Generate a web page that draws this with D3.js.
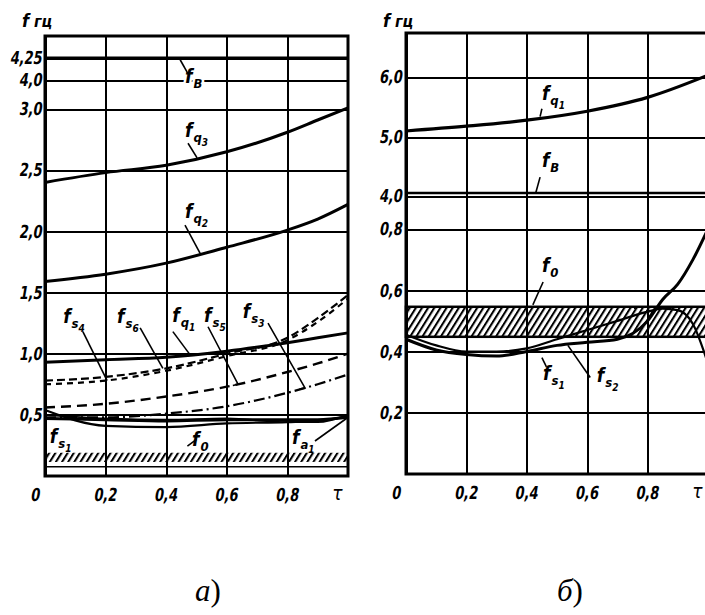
<!DOCTYPE html>
<html>
<head>
<meta charset="utf-8">
<script src="https://cdn.jsdelivr.net/npm/d3@7"></script>
<style>
  body { margin: 0; background: #fff; }
  svg text { font-family: 'Liberation Sans Narrow', 'DejaVu Sans Condensed', 'Arial Narrow', sans-serif;
             font-style: italic; font-weight: bold; fill: #000; }
  svg text.caption { font-family: 'Liberation Serif', 'DejaVu Serif', serif; font-weight: normal; }
</style>
</head>
<body>
<svg id="chart" width="705" height="615"></svg>
<script>
// ---- panel a) ----
var tauA = [0, 0.2, 0.4, 0.6, 0.8, 0.9, 1.0];
var fq3A = [2.40, 2.48, 2.54, 2.65, 2.81, 2.91, 3.04];
var fq2A = [1.59, 1.65, 1.74, 1.87, 2.01, 2.10, 2.22];
var fq1A = [0.93, 0.95, 0.97, 1.02, 1.09, 1.13, 1.17];
var fs4A = [0.78, 0.81, 0.88, 1.00, 1.13, 1.29, 1.48];
var fs6A = [0.75, 0.78, 0.86, 0.98, 1.11, 1.26, 1.45];
var fs5A = [0.56, 0.59, 0.65, 0.73, 0.85, 0.92, 1.00];
var fs3A = [0.48, 0.48, 0.51, 0.57, 0.68, 0.75, 0.83];
var fs1A = [0.54, 0.41, 0.40, 0.43, 0.44, 0.45, 0.49];
var f0A  = [0.47, 0.46, 0.45, 0.46, 0.46, 0.46, 0.48];
var fa1A = [0.50, 0.47, 0.46, 0.47, 0.44, 0.44, 0.50];
var fBA = 4.25;
var bandA = [0.115, 0.19];
var floorA = 0.075;
var yTicksA = [0.5, 1.0, 1.5, 2.0, 2.5, 3.0, 4.0, 4.25];
var yLabelsA = ['0,5', '1,0', '1,5', '2,0', '2,5', '3,0', '4,0', '4,25'];

// ---- panel б) ----
var tauB = [0, 0.2, 0.4, 0.6, 0.8, 1.0];
var fq1B = [5.10, 5.18, 5.28, 5.43, 5.66, 6.03];
var tauS = [0, 0.1, 0.2, 0.3, 0.4, 0.5, 0.6, 0.7, 0.8, 0.85, 0.9, 0.95, 1.0];
var fs1B = [0.44, 0.405, 0.39, 0.385, 0.40, 0.42, 0.43, 0.44, 0.50, 0.57, 0.62, 0.70, 0.81];
var fs2B = [0.455, 0.42, 0.40, 0.40, 0.41, 0.44, 0.47, 0.50, 0.53, 0.54, 0.535, 0.49, 0.36];
var fBB = 4.05;
var bandB = [0.448, 0.546];
var yTicksB = [0.2, 0.4, 0.6, 0.8, 4.0, 5.0, 6.0];
var yLabelsB = ['0,2', '0,4', '0,6', '0,8', '4,0', '5,0', '6,0'];

var xTicks = [0, 0.2, 0.4, 0.6, 0.8];
var xLabels = ['0', '0,2', '0,4', '0,6', '0,8'];

var svg = d3.select('#chart');

var defs = svg.append('defs');
var pat = defs.append('pattern')
    .attr('id', 'hatch')
    .attr('width', 5.2).attr('height', 10)
    .attr('patternUnits', 'userSpaceOnUse')
    .attr('patternTransform', 'rotate(32)');
pat.append('line')
    .attr('x1', 1).attr('y1', 0).attr('x2', 1).attr('y2', 10)
    .style('stroke', '#000').style('stroke-width', 2.1);

// one diagram: grid, axes, border
function panel(x, y, yTicks, yLabels, xPad) {
    var g = svg.append('g');
    var x0 = x.range()[0], x1 = x.range()[1];
    var yr = y.range();
    var yb = yr[0], yt = yr[yr.length - 1];

    var ya = g.append('g')
        .attr('transform', 'translate(' + x0 + ',0)')
        .call(d3.axisLeft(y).tickValues(yTicks)
            .tickFormat(function (d, i) { return yLabels[i]; })
            .tickSize(-(x1 - x0)).tickPadding(xPad));
    ya.select('.domain').remove();

    var xa = g.append('g')
        .attr('transform', 'translate(0,' + yb + ')')
        .call(d3.axisBottom(x).tickValues(xTicks)
            .tickFormat(function (d, i) { return xLabels[i]; })
            .tickSize(-(yb - yt)).tickPadding(12));
    xa.select('.domain').remove();
    xa.selectAll('.tick text').filter(function (d) { return d === 0; })
        .attr('dx', -12);

    g.selectAll('.tick line')
        .style('stroke', '#000').style('stroke-width', 2)
        .attr('shape-rendering', 'crispEdges');
    // narrow, slanted stencil-like digits
    ya.selectAll('.tick text')
        .attr('transform', 'scale(0.8,1) skewX(-12)');
    xa.selectAll('.tick text')
        .attr('transform', 'translate(3,0) scale(0.8,1) skewX(-12)');
    g.selectAll('.tick text')
        .attr('font-family', null).attr('fill', null)
        .style('font-style', 'normal')
        .style('font-size', '18px');
    g.selectAll('g').attr('font-family', null).attr('font-size', null);

    g.append('text')
        .attr('x', x(0.965)).attr('y', yb + 24)
        .attr('text-anchor', 'middle')
        .style('font-size', '19px').style('font-weight', 'normal')
        .text('τ');

    return g;
}

function curve(g, x, y, tau, vals, width, dash) {
    var line = d3.line()
        .x(function (d) { return x(d[0]); })
        .y(function (d) { return y(d[1]); })
        .curve(d3.curveMonotoneX);
    g.append('path')
        .datum(d3.zip(tau, vals))
        .attr('d', line)
        .style('fill', 'none')
        .style('stroke', '#000')
        .style('stroke-width', width)
        .style('stroke-dasharray', dash || null);
}

function hline(g, x, y, v, width) {
    g.append('line')
        .attr('x1', x(0)).attr('x2', x(1))
        .attr('y1', y(v)).attr('y2', y(v))
        .style('stroke', '#000').style('stroke-width', width);
}

function border(g, x, y) {
    var yr = y.range();
    g.append('rect')
        .attr('x', x(0)).attr('y', yr[yr.length - 1])
        .attr('width', x(1) - x(0)).attr('height', yr[0] - yr[yr.length - 1])
        .style('fill', 'none').style('stroke', '#000').style('stroke-width', 3);
}

// label "f" with subscript and second-level subscript
function fLabel(g, x, y, l) {
    var t = g.append('text')
        .attr('x', x(l.t)).attr('y', y(l.f))
        .style('font-size', '19px');
    if (l.halo) t.style('stroke', '#fff').style('stroke-width', 5).style('paint-order', 'stroke');
    t.append('tspan').text('f');
    t.append('tspan').attr('dx', 1).attr('dy', 5).style('font-size', '13px').text(l.sub);
    if (l.sub2) t.append('tspan').attr('dy', 4).style('font-size', '10px').text(l.sub2);
    if (l.lead) {
        g.append('path')
            .attr('d', d3.line()(l.lead.map(function (p) { return [x(p[0]), y(p[1])]; })))
            .style('fill', 'none').style('stroke', '#000').style('stroke-width', 1.6);
    }
}

function unitLabel(x0, base) {
    var t = svg.append('text').attr('x', x0).attr('y', base).style('font-size', '18px');
    t.append('tspan').text('f');
    t.append('tspan').attr('dx', 5).style('font-size', '16px').text('гц');
}

// ---- draw a) ----
var xA = d3.scaleLinear().domain([0, 1]).range([45, 348]);
var yA = d3.scaleLinear().domain([0, 3, 4, 4.25, 4.45]).range([476, 109, 80, 58, 36]);
var gA = panel(xA, yA, yTicksA, yLabelsA, 3);

gA.append('rect')
    .attr('x', xA(0)).attr('width', xA(1) - xA(0))
    .attr('y', yA(bandA[1])).attr('height', yA(bandA[0]) - yA(bandA[1]))
    .style('fill', 'url(#hatch)');
hline(gA, xA, yA, floorA, 1.5);
hline(gA, xA, yA, fBA, 3);

curve(gA, xA, yA, tauA, fq3A, 3);
curve(gA, xA, yA, tauA, fq2A, 3);
curve(gA, xA, yA, tauA, fq1A, 3);
curve(gA, xA, yA, tauA, fs4A, 2.2, '8,4');
curve(gA, xA, yA, tauA, fs6A, 2.2, '6,5');
curve(gA, xA, yA, tauA, fs5A, 2.4, '10,6');
curve(gA, xA, yA, tauA, fs3A, 2.2, '11,4,2,4');
curve(gA, xA, yA, tauA, fs1A, 2.2);
curve(gA, xA, yA, tauA, f0A, 3);
curve(gA, xA, yA, tauA, fa1A, 1.8);
border(gA, xA, yA);

var labelsA = [
    { t: 0.462, f: 3.90, sub: 'В', halo: true, lead: [[0.446, 4.23], [0.469, 4.09]] },
    { t: 0.462, f: 2.77, sub: 'q', sub2: '3', lead: [[0.472, 2.72], [0.502, 2.60]] },
    { t: 0.462, f: 2.11, sub: 'q', sub2: '2', lead: [[0.462, 2.05], [0.512, 1.82]] },
    { t: 0.060, f: 1.25, sub: 's', sub2: '4', lead: [[0.125, 1.18], [0.205, 0.78]] },
    { t: 0.238, f: 1.25, sub: 's', sub2: '6', lead: [[0.314, 1.21], [0.389, 0.88]] },
    { t: 0.420, f: 1.26, sub: 'q', sub2: '1', lead: [[0.422, 1.18], [0.479, 0.99]] },
    { t: 0.525, f: 1.26, sub: 's', sub2: '5', lead: [[0.538, 1.22], [0.637, 0.75], [0.62, 0.74]] },
    { t: 0.653, f: 1.29, sub: 's', sub2: '3', lead: [[0.736, 1.25], [0.858, 0.72], [0.84, 0.71]] },
    { t: 0.016, f: 0.27, sub: 's', sub2: '1' },
    { t: 0.485, f: 0.245, sub: '0', lead: [[0.470, 0.245], [0.500, 0.30]] },
    { t: 0.815, f: 0.26, sub: 'a', sub2: '1', lead: [[0.891, 0.286], [0.997, 0.474]] }
];
labelsA.forEach(function (l) { fLabel(gA, xA, yA, l); });
unitLabel(22, 27);

// ---- draw б) ----
var xB = d3.scaleLinear().domain([0, 1]).range([406, 708]);
var yB = d3.scaleLinear().domain([0, 0.8, 4, 5, 6, 6.73]).range([474, 229, 196, 137, 77, 33]);
var gB = panel(xB, yB, yTicksB, yLabelsB, 4);

gB.append('rect')
    .attr('x', xB(0)).attr('width', xB(1) - xB(0))
    .attr('y', yB(bandB[1])).attr('height', yB(bandB[0]) - yB(bandB[1]))
    .style('fill', 'url(#hatch)')
    .style('stroke', '#000').style('stroke-width', 2.5);
hline(gB, xB, yB, fBB, 2.5);
curve(gB, xB, yB, tauB, fq1B, 3.2);
curve(gB, xB, yB, tauS, fs1B, 3);
curve(gB, xB, yB, tauS, fs2B, 2.2);
border(gB, xB, yB);

var labelsB = [
    { t: 0.45, f: 5.62, sub: 'q', sub2: '1', lead: [[0.45, 5.47], [0.444, 5.34]] },
    { t: 0.45, f: 4.50, sub: 'В', lead: [[0.444, 4.32], [0.43, 4.06]] },
    { t: 0.45, f: 0.66, sub: '0', lead: [[0.454, 0.627], [0.42, 0.552]] },
    { t: 0.454, f: 0.307, sub: 's', sub2: '1', lead: [[0.45, 0.38], [0.465, 0.35]] },
    { t: 0.632, f: 0.30, sub: 's', sub2: '2', lead: [[0.536, 0.42], [0.61, 0.315]] }
];
labelsB.forEach(function (l) { fLabel(gB, xB, yB, l); });
unitLabel(383, 27);

// ---- captions ----
function caption(x0, letter) {
    var t = svg.append('text').attr('class', 'caption')
        .attr('x', x0).attr('y', 601).style('font-size', '31px');
    t.append('tspan').style('font-style', 'italic').text(letter);
    t.append('tspan').style('font-style', 'normal').text(')');
}
caption(195, 'а');
caption(557, 'б');
</script>
</body>
</html>
